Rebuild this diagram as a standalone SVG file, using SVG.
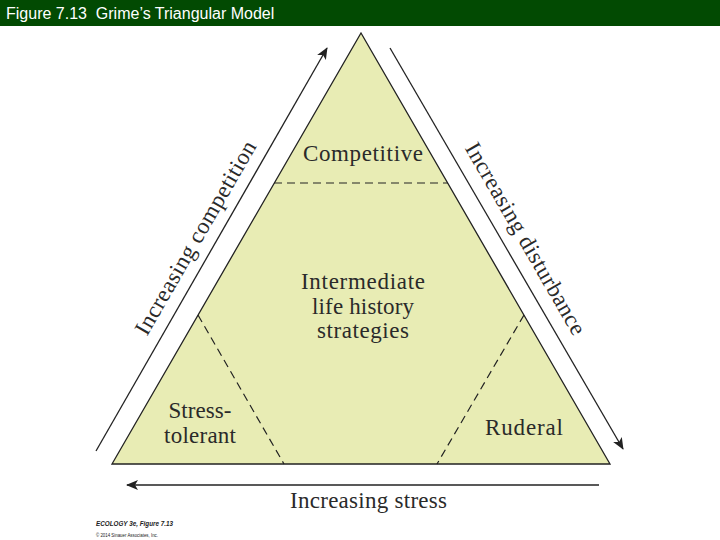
<svg xmlns="http://www.w3.org/2000/svg" width="720" height="540" viewBox="0 0 720 540">
<style>
.lbl{font-family:"Liberation Serif","Times New Roman",serif;font-size:23px;fill:#2a2a2a;text-anchor:middle}
.edge{stroke:#222;stroke-width:1.3;fill:none}
.dash{stroke:#222;stroke-width:1.2;fill:none;stroke-dasharray:8 5}
.foot{font-family:"Liberation Sans",Arial,sans-serif;fill:#222}
</style>
<defs>
<marker id="arr" markerWidth="12" markerHeight="10" refX="11" refY="5" orient="auto" markerUnits="userSpaceOnUse">
<path d="M0,0 L12,5 L0,10 L3,5 z" fill="#222"/>
</marker>
</defs>
<rect x="0" y="0" width="720" height="540" fill="#ffffff"/>
<g id="header">
<rect x="0" y="0" width="720" height="26" fill="#024a02"/>
<text x="6" y="19" font-family="Liberation Sans,Arial,sans-serif" font-size="16" fill="#ffffff" xml:space="preserve" style="white-space:pre">Figure 7.13  Grime’s Triangular Model</text>
</g>
<g id="triangle">
<polygon points="361,33 610,464 112,464" fill="#e8ecb4" stroke="#222" stroke-width="1.3"/>
</g>
<g id="boundaries">
<line class="dash" x1="274" y1="183" x2="448" y2="183"/>
<line class="dash" x1="198" y1="315" x2="284" y2="464"/>
<line class="dash" x1="524" y1="315" x2="437" y2="464"/>
</g>
<g id="connectors">
<line class="edge" x1="96" y1="451" x2="327" y2="48" marker-end="url(#arr)"/>
<line class="edge" x1="390" y1="48" x2="623" y2="449" marker-end="url(#arr)"/>
<line class="edge" x1="599" y1="485" x2="127" y2="485" marker-end="url(#arr)"/>
</g>
<g id="competitive"><text class="lbl" x="363" y="161" textLength="120">Competitive</text></g>
<g id="intermediate">
<text class="lbl" x="363" y="289" textLength="124">Intermediate</text>
<text class="lbl" x="363" y="314" textLength="102">life history</text>
<text class="lbl" x="363" y="338" textLength="92">strategies</text>
</g>
<g id="stress-tolerant">
<text class="lbl" x="200" y="418" textLength="63">Stress-</text>
<text class="lbl" x="200" y="443" textLength="72">tolerant</text>
</g>
<g id="ruderal"><text class="lbl" x="524" y="435" textLength="78">Ruderal</text></g>
<g id="axis-labels">
<text class="lbl" transform="translate(202,241.5) rotate(-60)" x="0" y="0" textLength="220">Increasing competition</text>
<text class="lbl" transform="translate(519,242.5) rotate(60)" x="0" y="0" textLength="218">Increasing disturbance</text>
<text class="lbl" x="368.5" y="508" textLength="157">Increasing stress</text>
</g>
<g id="footer">
<text class="foot" x="96" y="526" font-size="8" font-weight="bold" font-style="italic" textLength="77" lengthAdjust="spacingAndGlyphs">ECOLOGY 3e, Figure 7.13</text>
<text class="foot" x="96" y="537" font-size="6" fill="#333" textLength="62" lengthAdjust="spacingAndGlyphs">© 2014 Sinauer Associates, Inc.</text>
</g>
</svg>
